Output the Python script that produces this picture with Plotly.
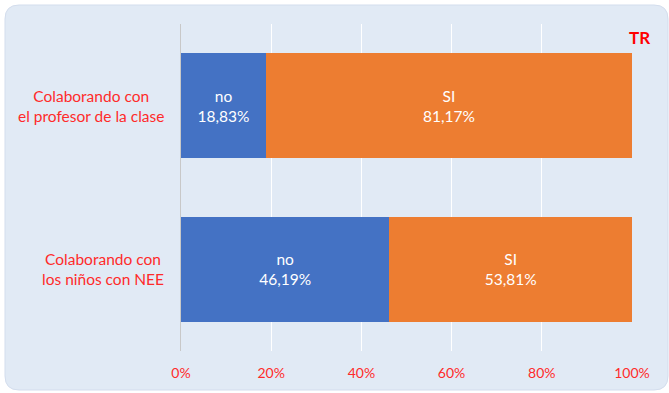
import plotly.graph_objects as go

categories = ["Colaborando con<br>el profesor de la clase", "Colaborando con<br>los niños con NEE"]
no_values = [18.83, 46.19]
si_values = [81.17, 53.81]
no_text = ["18,83%", "46,19%"]
si_text = ["81,17%", "53,81%"]
tick_vals = [0, 20, 40, 60, 80, 100]
tick_text = ["0%", "20%", "40%", "60%", "80%", "100%"]

FONT = "Lato"
RED = "#ff2a2a"

W, H = 669, 393
l, r, t, b = 181, 37, 24, 42
pw, ph = W - l - r, H - t - b


def px(x):
    return (x - l) / pw


def py(y):
    return (H - b - y) / ph


fig = go.Figure()
fig.add_trace(go.Bar(
    y=categories, x=no_values, orientation="h", name="no",
    marker=dict(color="#4472C4", line=dict(width=0)),
    text=["no<br>" + s for s in no_text], textposition="inside",
    insidetextanchor="middle", textangle=0,
    textfont=dict(color="white", size=15.5, family=FONT),
    width=0.64, hoverinfo="skip"))
fig.add_trace(go.Bar(
    y=categories, x=si_values, orientation="h", name="SI",
    marker=dict(color="#ED7D31", line=dict(width=0)),
    text=["SI<br>" + s for s in si_text], textposition="inside",
    insidetextanchor="middle", textangle=0,
    textfont=dict(color="white", size=15.5, family=FONT),
    width=0.64, hoverinfo="skip"))

# category labels: block right edge at 165px, lines centered within block
for c in categories:
    fig.add_annotation(x=px(166), xref="paper", y=c, yref="y", text=c,
                       showarrow=False, align="center", xanchor="right",
                       font=dict(color=RED, size=15.5, family=FONT), yshift=0)

fig.add_annotation(x=px(627), xref="paper", y=py(25), yref="paper", text="<b>TR</b>",
                   showarrow=False, xanchor="left", yanchor="top",
                   font=dict(color="#ff0000", size=17, family=FONT))

x0, x1, y0, y1, rad = 5, 668, 5, 390, 14
path = (f"M {px(x0+rad)},{py(y0)} L {px(x1-rad)},{py(y0)} "
        f"Q {px(x1)},{py(y0)} {px(x1)},{py(y0+rad)} "
        f"L {px(x1)},{py(y1-rad)} Q {px(x1)},{py(y1)} {px(x1-rad)},{py(y1)} "
        f"L {px(x0+rad)},{py(y1)} Q {px(x0)},{py(y1)} {px(x0)},{py(y1-rad)} "
        f"L {px(x0)},{py(y0+rad)} Q {px(x0)},{py(y0)} {px(x0+rad)},{py(y0)} Z")

fig.update_layout(
    width=W, height=H,
    margin=dict(l=l, r=r, t=t, b=b),
    barmode="stack", showlegend=False,
    paper_bgcolor="white", plot_bgcolor="rgba(0,0,0,0)",
    xaxis=dict(range=[0, 100], tickvals=tick_vals, ticktext=tick_text,
               showgrid=True, gridcolor="white", gridwidth=1,
               zeroline=False, showline=False,
               tickfont=dict(color=RED, size=14, family=FONT), ticks="", ticklabelstandoff=12),
    yaxis=dict(categoryorder="array", categoryarray=categories, autorange="reversed",
               showticklabels=False, showgrid=False, zeroline=False,
               showline=True, linecolor="#c8c8c8", linewidth=1),
    shapes=[dict(type="path", xref="paper", yref="paper", layer="below",
                 path=path, fillcolor="#e1eaf5",
                 line=dict(color="#d3dded", width=1))],
)

fig.write_html("out.html", config={"displayModeBar": False},
               post_script="document.body.style.margin='0';")
